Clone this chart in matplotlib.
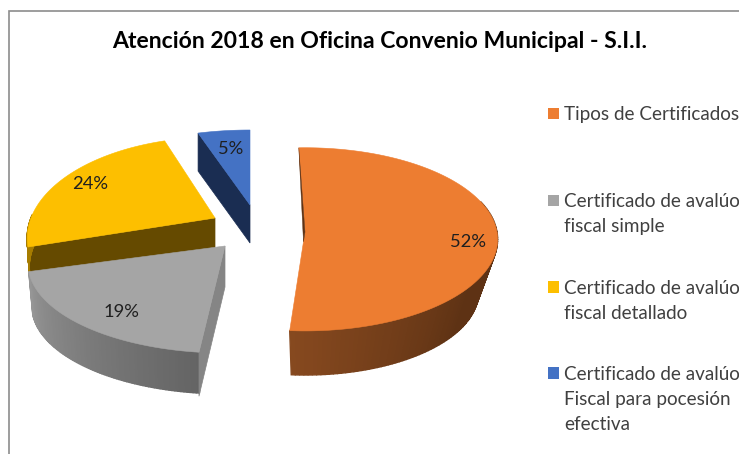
import numpy as np
import matplotlib
matplotlib.use("Agg")
import matplotlib.pyplot as plt
from matplotlib.patches import Polygon, Rectangle
from matplotlib.colors import to_rgb

# ---- data ----
title = "Atención 2018 en Oficina Convenio Municipal - S.I.I."
categories = ["Tipos de Certificados",
              "Certificado de avalúo\nfiscal simple",
              "Certificado de avalúo\nfiscal detallado",
              "Certificado de avalúo\nFiscal para pocesión\nefectiva"]
values = [52, 19, 24, 5]

# ---- style / layout of each slice (projection of the 3-D exploded pie) ----
top_colors = ["#ED7D31", "#A5A5A5", "#FDBF00", "#4472C4"]
edge_colors = ["#5E3214", "#858585", "#654A00", "#1A2D52"]
side_start = ["#87491F", "#646464", "#A67C00", "#1A2D52"]
side_end = ["#5E3214", "#979797", "#A67C00", "#1A2D52"]
apex = [(305, 232), (225, 246), (215, 218), (250, 205)]
scale_a = [192, 193, 184, 200]
scale_b = [91, 85.6, 97, 90]
persp = [0.08, 0.2, 0.2, 0.2]
depth = [54, 43, 30, 38]
shrink = [0.90, 0.98, 0.99, 1.0]
label_r = [0.85, 0.81, 0.82, 0.72]
label_turn = [6, -5, 0, 0]
trim_start = [0, 1, 0, 2]
trim_end = [-1, 0, 1, 2]
start_angle = -2.0

legend_y = [114.5, 201.5, 288, 374]
legend_line = 25.3
legend_sq_x, legend_sq_w = 547.5, 11.5
legend_tx = 564

plt.rcParams["font.family"] = ["Lato", "DejaVu Sans"]
fig = plt.figure(figsize=(7.39, 4.54), dpi=100)
ax = fig.add_axes([0, 0, 1, 1])
ax.set_xlim(0, 739)
ax.set_ylim(454, 0)
ax.axis("off")

# frame of the chart, cut off by the right and bottom of the picture
ax.plot([8.5, 8.5, 739], [454, 10.5, 10.5], color="#8C8C8C", lw=1.2, solid_joinstyle="miter")


def project(i, theta_deg, r=1.0):
    t = np.radians(theta_deg)
    w = 1 + persp[i] * r * np.cos(t)
    return (scale_a[i] * r * np.sin(t) / w, -scale_b[i] * r * np.cos(t) / w)


def top_pt(i, th, r=1.0):
    dx, dy = project(i, th, r)
    return np.column_stack([apex[i][0] + dx, apex[i][1] + dy])


def bot_pt(i, th, r=1.0):
    dx, dy = project(i, th, r)
    return np.column_stack([apex[i][0] + shrink[i] * dx,
                            apex[i][1] + depth[i] + shrink[i] * dy])


total = float(sum(values))
edges = start_angle + np.cumsum([0] + values) / total * 360.0

# back-to-front drawing order: blue, yellow, grey, orange
for i in [3, 2, 1, 0]:
    a0, a1 = edges[i] + trim_start[i], edges[i + 1] + trim_end[i]
    z = 2 + (3 - i) * 3

    # cut face along the last radius, for slices opening to the left
    if i in (2, 3):
        p = top_pt(i, np.array([a0]))[0]
        q = bot_pt(i, np.array([a0]))[0]
        if i == 3:
            q = p + np.array([0, depth[i]])
        ap = np.array(apex[i], float)
        ax.add_patch(Polygon([ap, p, q, ap + [0, depth[i]]], closed=True,
                             fc=edge_colors[i], ec=edge_colors[i], lw=0.5, zorder=z))

    # outer rim, only where it faces the viewer
    lo, hi = max(a0, 70), min(a1, 272)
    if hi > lo:
        th = np.linspace(lo, hi, 90)
        tp, bp = top_pt(i, th), bot_pt(i, th)
        c0, c1 = np.array(to_rgb(side_start[i])), np.array(to_rgb(side_end[i]))
        for k in range(len(th) - 1):
            if i == 0:
                # dark on the right, lighter towards the front-left end
                f = np.clip((th[k] - 125) / (hi - 125), 0, 1)
                col = c1 + (c0 - c1) * f
            else:
                f = (th[k] - lo) / (hi - lo)
                col = c0 + (c1 - c0) * f
            ax.add_patch(Polygon([tp[k], tp[k + 1], bp[k + 1], bp[k]], closed=True,
                                 fc=col, ec=col, lw=1.0, zorder=z))

    # grey slice: face along its first radius
    if i == 1:
        e0 = top_pt(i, np.array([a0]))[0]
        ap = np.array(apex[i], float)
        ax.add_patch(Polygon([ap, e0, e0 + [0, depth[i] + 1], ap + [0, depth[i] - 2]],
                             closed=True, fc=edge_colors[i], ec=edge_colors[i], lw=0.5, zorder=z + 0.5))

    # top face
    th = np.linspace(a0, a1, 200)
    poly = np.vstack([[apex[i]], top_pt(i, th)])
    ax.add_patch(Polygon(poly, closed=True, fc=top_colors[i], ec=top_colors[i], lw=0.4, zorder=z + 1))

    # orange slice: thin visible sliver of its first radius
    if i == 0:
        s = top_pt(i, np.array([a0]))[0]
        e = top_pt(i, np.array([a1]))[0]
        ap = np.array(apex[i], float)
        low = ap + 0.10 * (e - ap)
        ax.add_patch(Polygon([s, ap, low], closed=True, fc=edge_colors[i],
                             ec=edge_colors[i], lw=0.3, zorder=z + 1.5))

    # percentage label
    mid = 0.5 * (a0 + a1) + label_turn[i]
    lab = top_pt(i, np.array([mid]), label_r[i])[0]
    ax.text(lab[0], lab[1], f"{values[i]}%", ha="center", va="center",
            fontsize=13.2, color="#1F1F1F", zorder=30)

# title
ax.text(380, 41.5, title, ha="center", va="center", fontsize=16.6,
        fontweight="bold", color="#000000", zorder=30)

# legend, running off the right side of the picture
for cat, col, y in zip(categories, top_colors, legend_y):
    ax.add_patch(Rectangle((legend_sq_x, y - 1 - legend_sq_w / 2), legend_sq_w, legend_sq_w,
                           fc=col, ec="none", zorder=30))
    for n, line in enumerate(cat.split("\n")):
        ax.text(legend_tx, y + n * legend_line, line, ha="left", va="center",
                fontsize=13.6, color="#404040", zorder=30, clip_on=True)

fig.savefig("out.png", dpi=100, facecolor="white")
